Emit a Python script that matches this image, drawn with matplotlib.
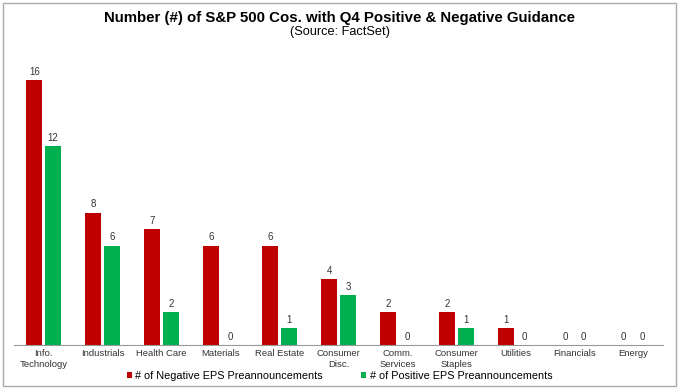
import numpy as np
import matplotlib.pyplot as plt
from matplotlib.patches import Rectangle

categories = ['Info.\nTechnology', 'Industrials', 'Health Care', 'Materials',
              'Real Estate', 'Consumer\nDisc.', 'Comm.\nServices',
              'Consumer\nStaples', 'Utilities', 'Financials', 'Energy']
negative = [16, 8, 7, 6, 6, 4, 2, 2, 1, 0, 0]
positive = [12, 6, 2, 0, 1, 3, 0, 1, 0, 0, 0]

red = '#C00000'
green = '#00B050'

plt.rcParams['font.family'] = ['Liberation Sans', 'DejaVu Sans']

fig = plt.figure(figsize=(6.79, 3.89), dpi=100)
ax = fig.add_axes([0.021, 0.113, 0.955, 0.766])

x = np.arange(len(categories))
w = 0.27
b1 = ax.bar(x - 0.16, negative, w, color=red, label='# of Negative EPS Preannouncements')
b2 = ax.bar(x + 0.16, positive, w, color=green, label='# of Positive EPS Preannouncements')

for xi, v in zip(x - 0.16, negative):
    ax.text(xi, v + 0.2, str(v), ha='center', va='bottom', fontsize=7, color='#333333')
for xi, v in zip(x + 0.16, positive):
    ax.text(xi, v + 0.2, str(v), ha='center', va='bottom', fontsize=7, color='#333333')

ax.set_xlim(-0.5, len(categories) - 0.5)
ax.set_ylim(0, 18)
ax.set_yticks([])
ax.set_xticks(x)
ax.set_xticklabels(categories, fontsize=6.8, color='#333333', linespacing=1.3)
ax.tick_params(axis='x', length=0, pad=3)
for s in ['left', 'right', 'top']:
    ax.spines[s].set_visible(False)
ax.spines['bottom'].set_color('#999999')

fig.text(0.5, 0.955, 'Number (#) of S&P 500 Cos. with Q4 Positive & Negative Guidance',
         ha='center', va='center', fontsize=10.8, fontweight='bold')
fig.text(0.5, 0.918, '(Source: FactSet)', ha='center', va='center', fontsize=9.2)

fig.legend(handles=[b1, b2], loc='center', bbox_to_anchor=(0.5, 0.033), ncol=2,
           frameon=False, fontsize=7.8, handlelength=0.5, handleheight=0.5,
           handletextpad=0.3, columnspacing=3.5)

fig.patches.append(Rectangle((0.004, 0.008), 0.992, 0.985, transform=fig.transFigure,
                             fill=False, edgecolor='#AAAAAA', linewidth=1))

fig.savefig('out.png', dpi=100)
